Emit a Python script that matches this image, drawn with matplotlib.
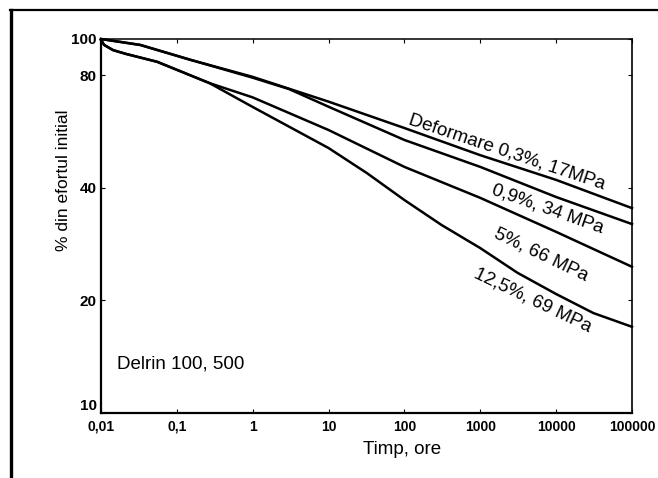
import matplotlib
matplotlib.use("Agg")
import matplotlib.pyplot as plt
from matplotlib.lines import Line2D

# Relaxarea efortului - Delrin 100, 500
ore_1 = [0.01, 0.033, 0.15, 1, 10, 100, 1000, 10000, 100000]
efort_1 = [100, 96.4, 88.0, 79.2, 68.0, 57.8, 48.9, 42.0, 35.3]

ore_2 = [0.01, 0.033, 0.15, 1, 3, 10, 100, 1000, 10000, 100000]
efort_2 = [100, 96.4, 88.0, 78.8, 73.5, 65.9, 53.7, 45.5, 37.8, 32.0]

ore_3 = [0.01, 0.011, 0.0144, 0.021, 0.055, 0.27, 1, 10, 100, 1000, 10000, 100000]
efort_3 = [99.4, 96.4, 93.4, 91.3, 86.9, 76.2, 69.8, 57.1, 45.5, 37.6, 30.5, 24.6]

ore_4 = [0.01, 0.011, 0.0144, 0.021, 0.055, 0.27, 1, 10, 32, 100, 310,
         1000, 3100, 10000, 31000, 100000]
efort_4 = [99.4, 96.4, 93.4, 91.3, 86.9, 76.2, 65.8, 51.1, 43.8, 37.1, 31.8,
           27.6, 23.7, 20.8, 18.5, 17.0]

x_ticks = [0.01, 0.1, 1, 10, 100, 1000, 10000, 100000]
x_labels = ["0,01", "0,1", "1", "10", "100", "1000", "10000", "100000"]
y_ticks = [10, 20, 40, 80, 100]
y_labels = ["10", "20", "40", "80", "100"]

W, H = 658, 478
fig = plt.figure(figsize=(W / 100, H / 100), dpi=100)
fig.patch.set_facecolor("white")

def px(x, y):
    # pixel position -> figure fraction
    return x / W, 1 - y / H

ax = fig.add_axes([101 / W, 1 - 413 / H, (632 - 101) / W, (413 - 39) / H])
ax.set_xscale("log")
ax.set_yscale("log")
ax.set_xlim(0.01, 100000)
ax.set_ylim(10, 100)

for xs, ys in [(ore_1, efort_1), (ore_2, efort_2), (ore_3, efort_3), (ore_4, efort_4)]:
    ax.plot(xs, ys, color="black", lw=1.8, solid_joinstyle="round", clip_on=False)

ax.set_xticks(x_ticks)
ax.set_xticklabels(x_labels)
ax.set_yticks(y_ticks)
ax.set_yticklabels(y_labels)
ax.minorticks_off()
ax.tick_params(axis="both", direction="in", length=3, width=0.8, top=True, right=True)
ax.tick_params(axis="x", pad=5)
ax.tick_params(axis="y", pad=3)
for lab in ax.get_xticklabels():
    lab.set_family(["Liberation Sans Narrow", "Liberation Sans"])
    lab.set_fontweight("bold")
    lab.set_fontsize(10)
for lab in ax.get_yticklabels():
    lab.set_family(["Liberation Sans Narrow", "Liberation Sans"])
    lab.set_fontweight("bold")
    lab.set_fontsize(11)
# "10" sta deasupra colturului, ca in original
ax.get_yticklabels()[0].set_va("bottom")

ax.spines["left"].set_linewidth(1.6)
ax.spines["bottom"].set_linewidth(1.6)
ax.spines["top"].set_linewidth(1.1)
ax.spines["right"].set_linewidth(1.2)

font = ["Liberation Sans", "DejaVu Sans"]

# etichete curbe
labels = [
    ("Deformare 0,3%, 17MPa", 507, 152, -18.5),
    ("0,9%, 34 MPa", 548, 209, -19.5),
    ("5%, 66 MPa", 541, 255, -25.5),
    ("12,5%, 69 MPa", 533, 300, -25.5),
]
for txt, x, y, rot in labels:
    fx, fy = px(x, y)
    fig.text(fx, fy, txt, rotation=rot, rotation_mode="anchor", ha="center", va="center",
             fontsize=13.5, family=font)

fx, fy = px(117, 364)
fig.text(fx, fy, "Delrin 100, 500", ha="left", va="center", fontsize=13.5, family=font)

fx, fy = px(402, 450)
fig.text(fx, fy, "Timp, ore", ha="center", va="center", fontsize=13.5, family=font)

fx, fy = px(63, 180)
fig.text(fx, fy, "% din efortul initial", rotation=90, ha="center", va="center",
         fontsize=12.5, family=font)

# chenarul exterior (sus si stanga)
fig.add_artist(Line2D([10 / W, 1], [1 - 10 / H, 1 - 10 / H], color="black", lw=1.6))
fig.add_artist(Line2D([11 / W, 11 / W], [0, 1 - 10 / H], color="black", lw=2.4))

fig.savefig("out.png", dpi=100)
